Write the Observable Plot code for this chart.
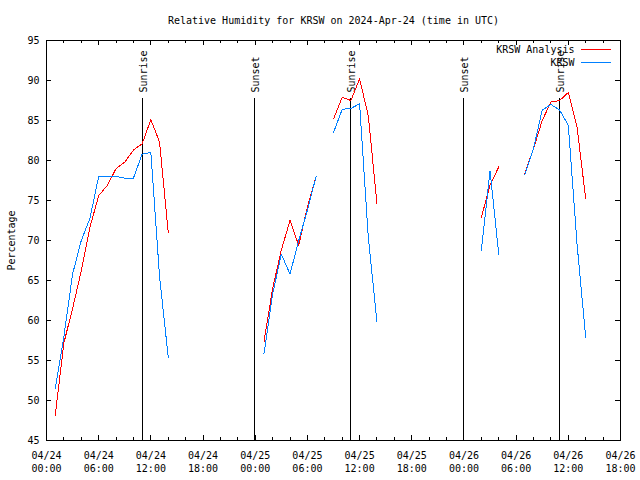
<!DOCTYPE html>
<html><head><meta charset="utf-8">
<script src="https://cdn.jsdelivr.net/npm/d3@7"></script>
<script src="https://cdn.jsdelivr.net/npm/@observablehq/plot@0.6"></script>
<style>body{margin:0;background:#fff} #chart svg{shape-rendering:crispEdges}</style>
</head><body><div id="chart"></div><script>
// hours since 2024-04-24 00:00 UTC; null values break the lines
const hours = [1,2,3,4,5,6,7,8,9,10,11,12,13,14,15, 25,26,27,28,29,30,31,32, 33,34,35,36,37,38,39, 50,51,52,53, 55,56,57,58,59,60,61,62];
const analysis = [48.1,57.2,61.5,66.2,71.7,75.6,76.9,79.0,79.8,81.3,82.1,85.1,82.3,71.0,null, 57.3,64.0,68.8,72.5,69.4,74.2,78.0,null, 85.2,87.9,87.5,90.2,85.6,74.6,null, 72.9,76.9,79.2,null, 78.4,81.5,85.0,87.3,87.5,88.5,84.2,75.2];
const observed = [51.5,58.0,65.8,70.0,72.8,78.0,78.0,78.0,77.8,77.8,80.8,81.0,65.5,55.4,null, 55.8,63.3,68.3,65.8,70.0,73.8,78.0,null, 83.5,86.4,86.5,87.1,70.4,59.8,null, 68.8,78.7,68.3,null, 78.2,81.5,86.3,87.0,86.3,84.4,69.6,57.9];

const eventTimes = [11.05, 23.95, 34.97, 47.98, 59.0];
const eventLabels = ["Sunrise", "Sunset", "Sunrise", "Sunset", "Sunrise"];

const xTicks = [0,6,12,18,24,30,36,42,48,54,60,66];
const xTickLabels = ["04/24\n00:00","04/24\n06:00","04/24\n12:00","04/24\n18:00","04/25\n00:00","04/25\n06:00","04/25\n12:00","04/25\n18:00","04/26\n00:00","04/26\n06:00","04/26\n12:00","04/26\n18:00"];
const xMinorTicks = [2,4,8,10,14,16,20,22,26,28,32,34,38,40,44,46,50,52,56,58,62,64];
const yTicks = [45,50,55,60,65,70,75,80,85,90,95];

const seriesNames = ["KRSW Analysis", "KRSW"];
const seriesColors = ["#ff0000", "#0080ff"];

const title = "Relative Humidity for KRSW on 2024-Apr-24 (time in UTC)";
const yLabel = "Percentage";

const rows = hours.map((h, i) => ({h, analysis: analysis[i], observed: observed[i]}));
const events = eventTimes.map((t, i) => ({t, label: eventLabels[i]}));

const W = 640, H = 480, ML = 46, MR = 20, MT = 40, MB = 40;
const PW = W - ML - MR, PH = H - MT - MB;
const majorLen = 5, minorLen = 3;

const lineShape = {draw(ctx, l) { ctx.moveTo(0, 0); ctx.lineTo(0, -l); }};

const legendMarks = seriesNames.flatMap((name, i) => [
  Plot.text([name], {frameAnchor: "top-right", text: d => d, textAnchor: "end", lineAnchor: "middle", dx: -46, dy: 9.5 + 13 * i, fill: "black"}),
  Plot.vector([name], {frameAnchor: "top-right", dx: -39, dy: 9.3 + 13 * i, length: 29, rotate: 90, anchor: "start", shape: lineShape, stroke: seriesColors[i], strokeWidth: 1})
]);

const chart = Plot.plot({
  width: W, height: H,
  marginLeft: ML, marginRight: MR, marginTop: MT, marginBottom: MB,
  style: {fontFamily: "'DejaVu Sans Mono', monospace", fontSize: "10px", background: "white", color: "black"},
  x: {domain: [0, 66]},
  y: {domain: [45, 95]},
  marks: [
    Plot.axisY({ticks: yTicks, tickSize: 0, tickPadding: 7, label: null}),
    Plot.axisX({ticks: xTicks, tickSize: 0, tickPadding: 9, lineHeight: 1.3, label: null,
      tickFormat: d => xTickLabels[xTicks.indexOf(d)]}),
    // inward ticks, gnuplot style
    Plot.tickY(yTicks, {insetRight: PW - majorLen, stroke: "black"}),
    Plot.tickY(yTicks, {insetLeft: PW - majorLen, stroke: "black"}),
    Plot.tickX(xTicks, {insetTop: PH - majorLen, stroke: "black"}),
    Plot.tickX(xTicks, {insetBottom: PH - majorLen, stroke: "black"}),
    Plot.tickX(xMinorTicks, {insetTop: PH - minorLen, stroke: "black"}),
    Plot.tickX(xMinorTicks, {insetBottom: PH - minorLen, stroke: "black"}),
    Plot.ruleX(events, {x: "t", y1: 45, y2: 87.7, stroke: "black", strokeWidth: 1}),
    Plot.text(events, {x: "t", y: 88.5, text: "label", rotate: -90, textAnchor: "start", dx: 1.5, fill: "black"}),
    Plot.line(rows, {x: "h", y: "analysis", stroke: seriesColors[0], strokeWidth: 1}),
    Plot.line(rows, {x: "h", y: "observed", stroke: seriesColors[1], strokeWidth: 1}),
    ...legendMarks,
    Plot.text([title], {frameAnchor: "top", text: d => d, textAnchor: "middle", lineAnchor: "middle", dy: -20, fill: "black"}),
    Plot.text([yLabel], {frameAnchor: "left", text: d => d, rotate: -90, textAnchor: "middle", lineAnchor: "middle", dx: -35, fill: "black"}),
    Plot.frame({stroke: "black", strokeWidth: 1})
  ]
});
document.getElementById("chart").appendChild(chart);
</script></body></html>
